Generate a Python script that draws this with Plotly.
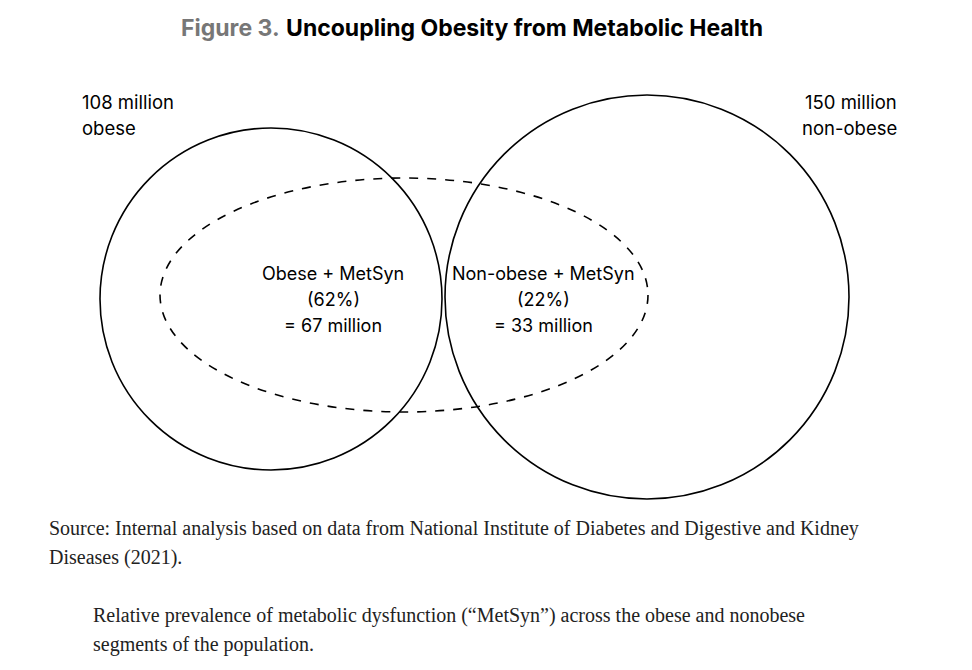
import plotly.graph_objects as go

# Data
groups = ["obese", "non-obese"]
group_millions = [108, 150]
overlap_labels = ["Obese + MetSyn", "Non-obese + MetSyn"]
overlap_pct = [62, 22]
overlap_millions = [67, 33]

W, H = 972, 670
O = 8  # page body offset
fig = go.Figure()
fig.add_trace(go.Scatter(x=[0, W], y=[0, H], mode="markers", marker=dict(opacity=0), hoverinfo="skip", showlegend=False))

circles = [(271, 299, 171, 171), (647, 297, 202, 202)]
for cx, cy, rx, ry in circles:
    fig.add_shape(type="circle", x0=cx-rx-O, x1=cx+rx-O, y0=cy-ry-O, y1=cy+ry-O,
                  line=dict(color="black", width=1.6))
fig.add_shape(type="circle", x0=160-O, x1=648-O, y0=178-O, y1=412-O,
              line=dict(color="black", width=1.6, dash="dash"))

font = "Inter, Open Sans, sans-serif"
ann = []
ann.append(dict(x=472-O, y=28-O, text="<span style='color:#777'><b>Figure 3.</b></span> <b>Uncoupling Obesity from Metabolic Health</b>",
                font=dict(size=23, family=font, color="black"), showarrow=False))
ann.append(dict(x=80-O, y=102-O, text=f"{group_millions[0]} million", xanchor="left",
                font=dict(size=18.5, family=font, color="black"), showarrow=False))
ann.append(dict(x=80-O, y=128-O, text=groups[0], xanchor="left",
                font=dict(size=18.5, family=font, color="black"), showarrow=False))
ann.append(dict(x=899-O, y=102-O, text=f"{group_millions[1]} million", xanchor="right",
                font=dict(size=18.5, family=font, color="black"), showarrow=False))
ann.append(dict(x=899-O, y=128-O, text=groups[1], xanchor="right",
                font=dict(size=18.5, family=font, color="black"), showarrow=False))
for x, lab, p, m in zip([333, 543], overlap_labels, overlap_pct, overlap_millions):
    for dy, t in zip([-26, 0, 26], [lab, f"({p}%)", f"= {m} million"]):
        ann.append(dict(x=x-O, y=299+dy-O, text=t, font=dict(size=18, family=font, color="black"), showarrow=False))
serif = "Liberation Serif, Times New Roman, serif"
src = ["Source: Internal analysis based on data from National Institute of Diabetes and Digestive and Kidney", "Diseases (2021)."]
cap = ["Relative prevalence of metabolic dysfunction (“MetSyn”) across the obese and nonobese", "segments of the population."]
for i, t in enumerate(src):
    ann.append(dict(x=47-O, y=528+i*29-O, xanchor="left", showarrow=False, text=t,
                    font=dict(size=20, family=serif, color="#222")))
for i, t in enumerate(cap):
    ann.append(dict(x=91-O, y=615+i*29-O, xanchor="left", showarrow=False, text=t,
                    font=dict(size=20, family=serif, color="#222")))
for a in ann:
    a["xref"] = "x"; a["yref"] = "y"
fig.update_layout(annotations=ann, width=W, height=H, margin=dict(l=0, r=0, t=0, b=0),
                  plot_bgcolor="white", paper_bgcolor="white",
                  xaxis=dict(range=[0, W], visible=False, fixedrange=True),
                  yaxis=dict(range=[H, 0], visible=False, fixedrange=True))
fig.write_html("out.html")
